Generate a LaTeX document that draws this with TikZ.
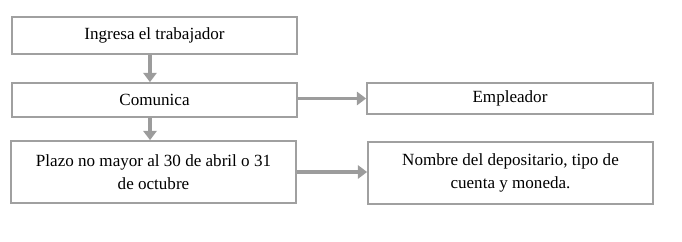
\documentclass[tikz,border=0pt]{standalone}
\usepackage{fontspec}
\setmainfont{Liberation Serif}
\usepackage{xcolor}
\usetikzlibrary{arrows.meta, positioning}
\definecolor{grisborde}{HTML}{A0A0A0}
\definecolor{grisflecha}{HTML}{9C9C9C}

\begin{document}
\begin{tikzpicture}[
        x=0.75pt, y=-0.75pt,
        font=\fontsize{12.8}{17}\selectfont,
        caja/.style={draw=grisborde, line width=1.3pt, fill=white,
            minimum width=213.75pt, align=center, inner sep=0pt},
        flecha/.style={draw=grisflecha, line width=2.8pt,
            -{Triangle[length=7pt, width=10pt]}}
    ]
        \useasboundingbox (0,0) rectangle (682,242);

        \node[caja, minimum height=27.75pt] (ingreso) at (154.5,35.5) {Ingresa el trabajador};
        \node[caja, minimum height=25.5pt] (comunica) at (154.5,100) {Comunica};
        \node[caja, minimum height=46.5pt] (plazo) at (153.5,172) {Plazo no mayor al 30 de abril o 31\\de octubre};
        \node[caja, minimum width=214.5pt, minimum height=23.25pt] (empleador) at (510,98.5) {Empleador};
        \node[caja, minimum height=46.5pt] (nombre) at (510.5,173) {Nombre del depositario, tipo de\\cuenta y moneda.};

        \draw[flecha] ([xshift=-3.4pt]ingreso.south) -- ([xshift=-3.4pt]comunica.north);
        \draw[flecha] ([xshift=-3.4pt]comunica.south) -- ([xshift=-2.6pt]plazo.north);
        \draw[flecha] (empleador.west -| comunica.east) -- (empleador.west);
        \draw[flecha] (plazo.east) -- (plazo.east -| nombre.west);
    \end{tikzpicture}
\end{document}
